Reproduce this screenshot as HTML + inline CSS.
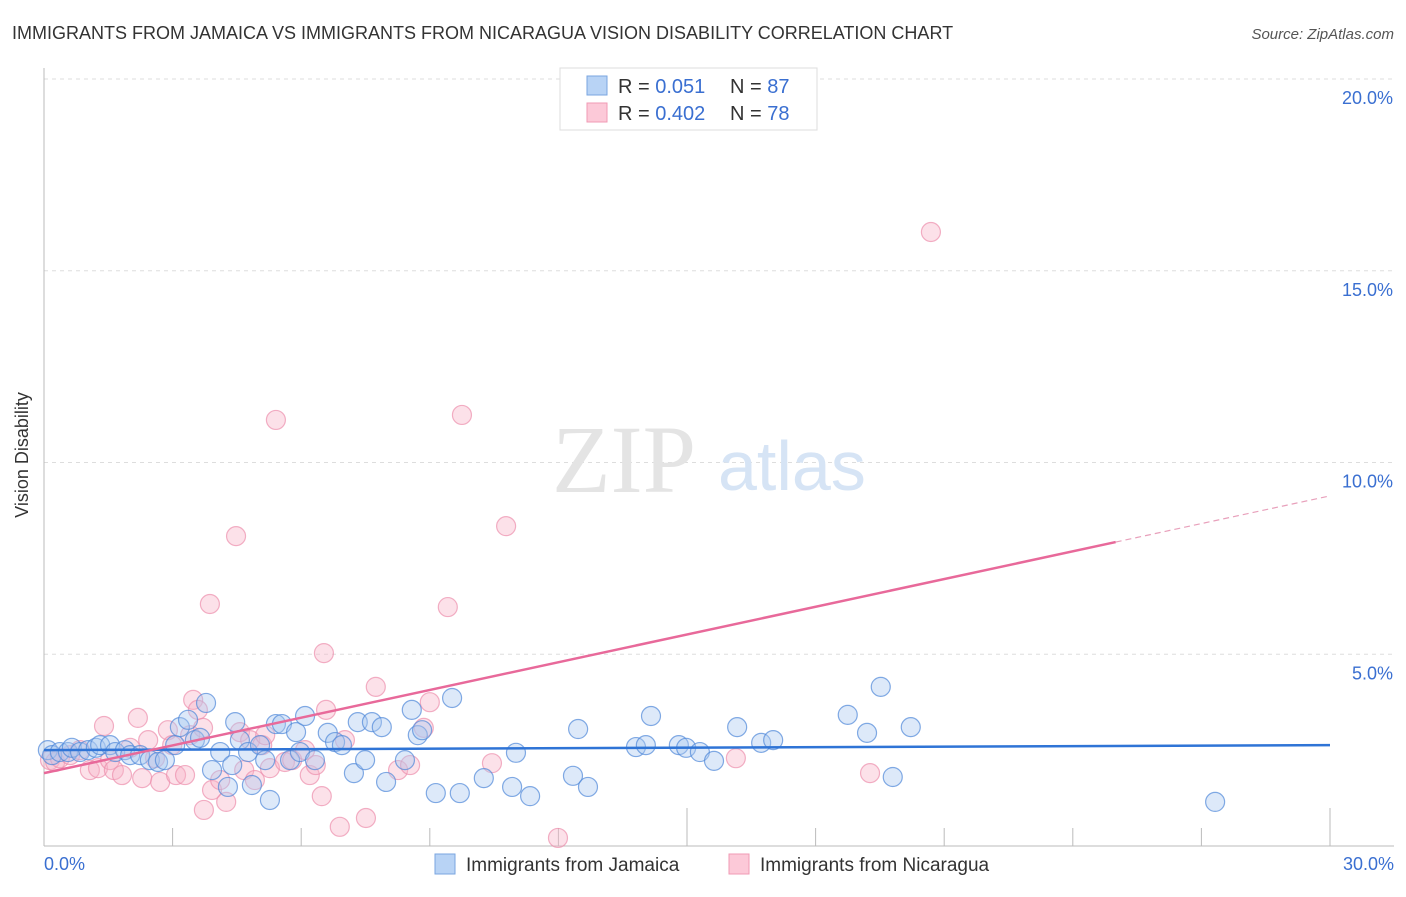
<!DOCTYPE html>
<html><head><meta charset="utf-8"><style>
body{margin:0;background:#fff;font-family:"Liberation Sans",sans-serif;}
svg text{font-family:"Liberation Sans",sans-serif;}
</style></head><body>
<svg width="1406" height="892" viewBox="0 0 1406 892" xmlns="http://www.w3.org/2000/svg">
<text x="12" y="39" font-size="18" fill="#333">IMMIGRANTS FROM JAMAICA VS IMMIGRANTS FROM NICARAGUA VISION DISABILITY CORRELATION CHART</text>
<text x="1394" y="39" font-size="15" fill="#555" font-style="italic" text-anchor="end">Source: ZipAtlas.com</text>
<g id="grid"></g>
<text x="552" y="492" font-size="96" fill="#e4e4e4" font-family="Liberation Serif" style="font-family:'Liberation Serif',serif">ZIP</text>
<text x="718" y="490" font-size="70" fill="#d6e4f5">atlas</text>
<g id="axes"></g>
<g id="pts"></g>
<g id="trends"></g>
<text x="28" y="455" font-size="18" fill="#333" text-anchor="middle" transform="rotate(-90 28 455)">Vision Disability</text>
<text x="44" y="870" font-size="18" fill="#3a6fd1">0.0%</text>
<text x="1394" y="870" font-size="18" fill="#3a6fd1" text-anchor="end">30.0%</text>
<g>
<rect x="560" y="68" width="257" height="62" fill="#fff" stroke="#ddd"/>
<rect x="587" y="76" width="20" height="19" fill="#b8d3f5" stroke="#7aa6e0"/>
<rect x="587" y="103" width="20" height="19" fill="#fcc9d8" stroke="#f09ab4"/>
<text x="618" y="93" font-size="20" fill="#333">R = <tspan fill="#3a6fd1"> 0.051</tspan><tspan x="730">N = </tspan><tspan fill="#3a6fd1">87</tspan></text>
<text x="618" y="120" font-size="20" fill="#333">R = <tspan fill="#3a6fd1">0.402</tspan><tspan x="730">N = </tspan><tspan fill="#3a6fd1">78</tspan></text>
</g>
<g>
<rect x="435" y="854" width="20" height="20" fill="#b8d3f5" stroke="#7aa6e0"/>
<text x="466" y="871" font-size="19" fill="#333">Immigrants from Jamaica</text>
<rect x="729" y="854" width="20" height="20" fill="#fcc9d8" stroke="#f09ab4"/>
<text x="760" y="871" font-size="19" fill="#333">Immigrants from Nicaragua</text>
</g>
</svg>
<script>
const yTicks=[5,10,15,20];
const yTickLabels=["5.0%","10.0%","15.0%","20.0%"];
const xTicks=[0,3,6,9,12,15,18,21,24,27,30];
const jamX=[0.09,0.19,0.37,0.56,0.65,0.84,1.03,1.21,1.31,1.54,1.66,1.89,2.01,2.24,2.47,2.66,2.82,3.06,3.17,3.36,3.52,3.64,3.78,3.92,4.11,4.29,4.39,4.46,4.57,4.76,4.85,5.04,5.16,5.27,5.41,5.55,5.74,5.88,5.97,6.09,6.32,6.62,6.79,6.95,7.23,7.32,7.49,7.65,7.88,7.98,8.42,8.58,8.72,8.82,9.14,9.52,9.70,10.26,10.92,11.01,11.34,12.34,12.46,12.69,13.81,14.04,14.16,14.81,14.98,15.30,15.63,16.17,16.73,17.01,18.75,19.20,19.52,19.80,20.22,27.32];
const jamY=[2.50,2.37,2.45,2.45,2.56,2.45,2.50,2.56,2.63,2.63,2.45,2.50,2.37,2.37,2.24,2.19,2.24,2.63,3.10,3.29,2.76,2.82,3.73,1.98,2.45,1.54,2.11,3.23,2.76,2.45,1.59,2.63,2.24,1.20,3.18,3.18,2.24,2.97,2.45,3.39,2.24,2.95,2.71,2.63,1.90,3.23,2.24,3.23,3.10,1.67,2.24,3.55,2.89,3.02,1.38,3.86,1.38,1.77,1.54,2.43,1.30,1.83,3.05,1.54,2.58,2.63,3.39,2.63,2.56,2.45,2.22,3.10,2.69,2.76,3.42,2.95,4.15,1.80,3.10,1.15];
const nicX=[0.14,0.26,0.37,0.61,0.84,1.07,1.26,1.40,1.54,1.63,1.82,2.01,2.19,2.29,2.43,2.59,2.71,2.89,2.99,3.08,3.29,3.41,3.48,3.59,3.71,3.73,3.87,3.92,4.11,4.25,4.48,4.57,4.67,4.81,4.92,5.09,5.16,5.27,5.41,5.62,5.79,6.09,6.20,6.34,6.48,6.53,6.58,6.90,7.02,7.51,7.74,8.26,8.54,8.86,9.00,9.42,9.75,10.45,10.78,11.99,16.14,19.27,20.69];
const nicY=[2.24,2.19,2.29,2.37,2.50,1.98,2.03,3.13,2.24,1.98,1.85,2.56,3.34,1.77,2.76,2.29,1.67,3.02,2.63,1.85,1.85,2.89,3.81,3.55,3.08,0.94,6.31,1.46,1.72,1.15,8.08,2.97,1.98,2.76,1.72,2.63,2.89,2.03,11.11,2.19,2.24,2.50,1.85,2.11,1.30,5.03,3.55,0.50,2.76,0.73,4.15,1.98,2.11,3.08,3.75,6.23,11.24,2.16,8.34,0.21,2.29,1.90,16.01];
const jamTrend=[2.50,0.0043];
const nicTrend=[1.90,0.241];
const NS="http://www.w3.org/2000/svg";
const X=v=>44+v*(1286/30), Y=v=>846-v*38.35;
function mk(t,a,p){const e=document.createElementNS(NS,t);for(const k in a)e.setAttribute(k,a[k]);p.appendChild(e);return e;}
const grid=document.getElementById('grid'),axes=document.getElementById('axes'),pts=document.getElementById('pts'),tr=document.getElementById('trends');
yTicks.forEach((t,i)=>{
 const l=mk('line',{x1:44,x2:1394,y1:Y(t),y2:Y(t),stroke:'#ddd','stroke-dasharray':'4,4'},grid);
 
 
 const tx=mk('text',{x:1393,y:Y(t)+25,'font-size':18,fill:'#3a6fd1','text-anchor':'end'},grid);
 tx.textContent=yTickLabels[i];
 
 
});
let a=mk('line',{x1:44,x2:44,y1:68,y2:846,stroke:'#bbb'},axes);


a=mk('line',{x1:44,x2:1394,y1:846,y2:846,stroke:'#bbb'},axes);


xTicks.forEach(t=>{
 const l=mk('line',{x1:X(t),x2:X(t),y1:(t==15||t==30)?808:828,y2:846,stroke:'#bbb'},axes);
 
 
});
function draw(xs,ys,fill,stroke,name){xs.forEach((x,i)=>{
 const c=mk('circle',{cx:X(x),cy:Y(ys[i]),r:9.5,fill:fill,'fill-opacity':0.4,stroke:stroke,'stroke-opacity':0.7,'stroke-width':1.2},pts);
 
 
});}
draw(nicX,nicY,'#f7b3c8','#ec8fad','nicaragua-point');
draw(jamX,jamY,'#a9c8f0','#4f88d8','jamaica-point');
let l=mk('line',{x1:X(0),y1:Y(jamTrend[0]),x2:X(30),y2:Y(jamTrend[0]+30*jamTrend[1]),stroke:'#2f74d6','stroke-width':2.5},tr);


l=mk('line',{x1:X(0),y1:Y(nicTrend[0]),x2:X(25),y2:Y(nicTrend[0]+25*nicTrend[1]),stroke:'#e8699a','stroke-width':2.5},tr);


l=mk('line',{x1:X(25),y1:Y(nicTrend[0]+25*nicTrend[1]),x2:X(30),y2:Y(nicTrend[0]+30*nicTrend[1]),stroke:'#e8a0bb','stroke-width':1.2,'stroke-dasharray':'6,4'},tr);


</script>
</body></html>
